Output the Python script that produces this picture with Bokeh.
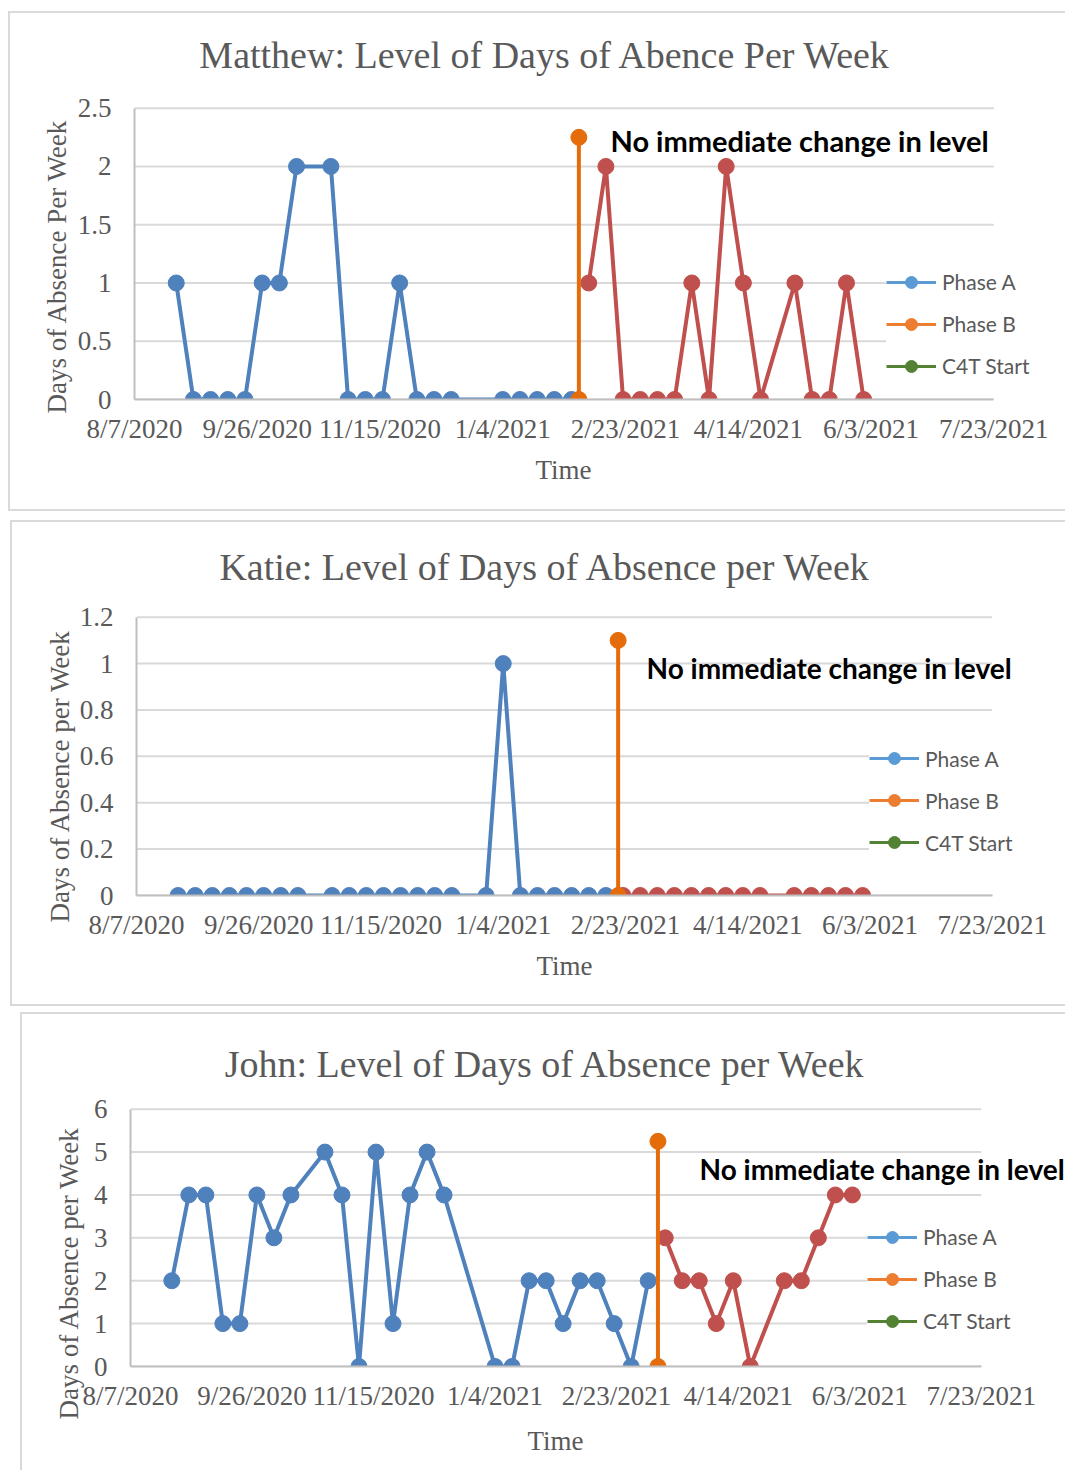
import pandas as pd
from bokeh.plotting import figure
from bokeh.models import (Range1d, FixedTicker, NumeralTickFormatter, Label,
                          Legend, LegendItem, Title)
from bokeh.embed import file_html
from bokeh.resources import INLINE

# ---------------- data ----------------
x_tick_labels = ["8/7/2020", "9/26/2020", "11/15/2020", "1/4/2021",
                 "2/23/2021", "4/14/2021", "6/3/2021", "7/23/2021"]

matthew_a_dates = ["2020-08-24", "2020-08-31", "2020-09-07", "2020-09-14", "2020-09-21",
                   "2020-09-28", "2020-10-05", "2020-10-12", "2020-10-26", "2020-11-02",
                   "2020-11-09", "2020-11-16", "2020-11-23", "2020-11-30", "2020-12-07",
                   "2020-12-14", "2021-01-04", "2021-01-11", "2021-01-18", "2021-01-25",
                   "2021-02-01"]
matthew_a_vals = [1, 0, 0, 0, 0, 1, 1, 2, 2, 0, 0, 0, 1, 0, 0, 0, 0, 0, 0, 0, 0]
matthew_b_dates = ["2021-02-08", "2021-02-15", "2021-02-22", "2021-03-01", "2021-03-08",
                   "2021-03-15", "2021-03-22", "2021-03-29", "2021-04-05", "2021-04-12",
                   "2021-04-19", "2021-05-03", "2021-05-10", "2021-05-17", "2021-05-24",
                   "2021-05-31"]
matthew_b_vals = [1, 2, 0, 0, 0, 0, 1, 0, 2, 1, 0, 1, 0, 0, 1, 0]
matthew_start_date = "2021-02-04"
matthew_start_vals = [0, 2.25]
matthew_y_ticks = [0, 0.5, 1, 1.5, 2, 2.5]

katie_a_dates = ["2020-08-24", "2020-08-31", "2020-09-07", "2020-09-14", "2020-09-21",
                 "2020-09-28", "2020-10-05", "2020-10-12", "2020-10-26", "2020-11-02",
                 "2020-11-09", "2020-11-16", "2020-11-23", "2020-11-30", "2020-12-07",
                 "2020-12-14", "2020-12-28", "2021-01-04", "2021-01-11", "2021-01-18",
                 "2021-01-25", "2021-02-01", "2021-02-08", "2021-02-15"]
katie_a_vals = [0, 0, 0, 0, 0, 0, 0, 0, 0, 0, 0, 0, 0, 0, 0, 0, 0, 1, 0, 0, 0, 0, 0, 0]
katie_b_dates = ["2021-02-22", "2021-03-01", "2021-03-08", "2021-03-15", "2021-03-22",
                 "2021-03-29", "2021-04-05", "2021-04-12", "2021-04-19", "2021-05-03",
                 "2021-05-10", "2021-05-17", "2021-05-24", "2021-05-31"]
katie_b_vals = [0, 0, 0, 0, 0, 0, 0, 0, 0, 0, 0, 0, 0, 0]
katie_start_date = "2021-02-20"
katie_start_vals = [0, 1.1]
katie_y_ticks = [0, 0.2, 0.4, 0.6, 0.8, 1, 1.2]

john_a_dates = ["2020-08-24", "2020-08-31", "2020-09-07", "2020-09-14", "2020-09-21",
                "2020-09-28", "2020-10-05", "2020-10-12", "2020-10-26", "2020-11-02",
                "2020-11-09", "2020-11-16", "2020-11-23", "2020-11-30", "2020-12-07",
                "2020-12-14", "2021-01-04", "2021-01-11", "2021-01-18", "2021-01-25",
                "2021-02-01", "2021-02-08", "2021-02-15", "2021-02-22", "2021-03-01",
                "2021-03-08"]
john_a_vals = [2, 4, 4, 1, 1, 4, 3, 4, 5, 4, 0, 5, 1, 4, 5, 4, 0, 0, 2, 2, 1, 2, 2, 1, 0, 2]
john_b_dates = ["2021-03-15", "2021-03-22", "2021-03-29", "2021-04-05", "2021-04-12",
                "2021-04-19", "2021-05-03", "2021-05-10", "2021-05-17", "2021-05-24",
                "2021-05-31"]
john_b_vals = [3, 2, 2, 1, 2, 0, 2, 2, 3, 4, 4]
john_start_date = "2021-03-12"
john_start_vals = [0, 5.25]
john_y_ticks = [0, 1, 2, 3, 4, 5, 6]

legend_labels = ["Phase A", "Phase B", "C4T Start"]
annotation_text = "No immediate change in level"

# ---------------- styling ----------------
BLUE, RED, ORANGE = "#4F81BD", "#C0504D", "#E46C0A"
LEG_COLORS = ["#5B9BD5", "#ED7D31", "#548235"]
GRAY_TXT = "#595959"
SERIF = "Liberation Serif"
BORDER = "#D9D9D9"
DAY_MS = 86400000.0


def ms(s):
    return int(pd.Timestamp(s).value // 10**6)


def make_panel(g):
    # g: geometry / style settings for one panel (absolute page pixels)
    cx0, cy0, cw, ch = g["canvas"]
    fl, fb = g["frame_left"], g["frame_bottom"]
    ppd, ppu = g["ppd"], g["ppu"]
    x0 = ms(x_tick_labels[0])

    def x_at(px):
        return x0 + (px - fl) / ppd * DAY_MS

    def y_at(py):
        return (fb - py) / ppu

    yt = g["yticks"]
    p = figure(width=cw, height=ch, x_axis_type="datetime", title=None,
               output_backend="svg", toolbar_location=None,
               min_border_left=fl - cx0, min_border_right=0,
               min_border_top=0, min_border_bottom=cy0 + ch - fb,
               x_range=Range1d(x0, x_at(cx0 + cw)),
               y_range=Range1d(yt[0], y_at(cy0)),
               margin=g["margin"], styles=g["styles"])
    p.outline_line_color = None
    p.background_fill_color = "white"
    p.border_fill_color = "white"
    p.xgrid.grid_line_color = None
    p.ygrid.grid_line_color = None

    x_end = ms(x_tick_labels[-1])
    tick_ms = [ms(s) for s in x_tick_labels]
    p.xaxis.ticker = FixedTicker(ticks=tick_ms, minor_ticks=[])
    p.xaxis.major_label_overrides = {t: s for t, s in zip(tick_ms, x_tick_labels)}
    p.xaxis.bounds = (x0, x_end)
    p.yaxis.ticker = FixedTicker(ticks=yt, minor_ticks=[])
    p.yaxis.formatter = NumeralTickFormatter(format="0.[0]")
    p.yaxis.bounds = (yt[0], yt[-1])
    for ax in (p.xaxis[0], p.yaxis[0]):
        ax.axis_line_color = "#BFBFBF"
        ax.axis_line_width = 2
        ax.major_tick_line_color = None
        ax.minor_tick_line_color = None
        ax.major_tick_out = 0
        ax.major_tick_in = 0
        ax.major_label_text_font = SERIF
        ax.major_label_text_font_size = "27px"
        ax.major_label_text_color = GRAY_TXT
    p.xaxis.major_label_standoff = 14
    p.yaxis.major_label_standoff = 23

    # horizontal gridlines, spanning the date axis only
    p.segment(x0=[x0] * len(yt), x1=[x_end] * len(yt), y0=yt, y1=yt,
              line_color="#D9D9D9", line_width=2)

    # series
    ad = pd.to_datetime(g["a_dates"])
    bd = pd.to_datetime(g["b_dates"])
    sd = pd.to_datetime([g["start"], g["start"]])
    p.line(ad, g["a_vals"], line_color=BLUE, line_width=4)
    p.scatter(ad, g["a_vals"], size=16, color=BLUE)
    p.line(bd, g["b_vals"], line_color=RED, line_width=4)
    p.scatter(bd, g["b_vals"], size=16, color=RED)
    p.line(sd, g["start_vals"], line_color=ORANGE, line_width=4)
    p.scatter(sd, g["start_vals"], size=16, color=ORANGE)

    # legend (renderers with no visible data)
    items = []
    nan = float("nan")
    for lab, col in zip(legend_labels, LEG_COLORS):
        rl = p.line(x=[nan], y=[nan], line_color=col, line_width=3)
        rs = p.scatter(x=[nan], y=[nan], size=12, color=col)
        items.append(LegendItem(label=lab, renderers=[rl, rs]))
    leg = Legend(items=items, location=g["leg_loc"], orientation="vertical",
                 glyph_width=50, glyph_height=30, label_height=22, label_standoff=6,
                 spacing=12, padding=16, margin=0,
                 label_text_font="Lato", label_text_font_size="21px",
                 label_text_color=GRAY_TXT, background_fill_color="white",
                 background_fill_alpha=1.0, border_line_color=None)
    p.add_layout(leg)

    # chart title (inside the drawing area, above the plot region)
    tx, ty = g["title_pos"]
    p.add_layout(Label(x=x_at(tx), y=y_at(ty), text=g["title"],
                       text_align="center", text_baseline="alphabetic",
                       text_font=SERIF, text_font_size="38px", text_color=GRAY_TXT))
    # annotation
    ax_, ay_ = g["ann_pos"]
    p.add_layout(Label(x=x_at(ax_), y=y_at(ay_), text=annotation_text,
                       text_align="left", text_baseline="alphabetic",
                       text_font="Lato", text_font_style="bold",
                       text_font_size=g["ann_size"], text_color="black"))
    # axis titles
    p.add_layout(Title(text=g["ylab"], align="left", offset=g["ylab_off"],
                       standoff=g["ylab_standoff"], text_font=SERIF,
                       text_font_size="27px", text_font_style="normal",
                       text_color=GRAY_TXT), "left")
    p.add_layout(Title(text="Time", align="left", offset=g["time_off"],
                       vertical_align="top", standoff=g["time_standoff"], text_font=SERIF,
                       text_font_size="27px", text_font_style="normal",
                       text_color=GRAY_TXT), "below")
    return p


p1 = make_panel(dict(
    canvas=(10, 13, 1057, 500), margin=(11, 0, 0, 8),
    styles={"border-style": "solid", "border-color": BORDER,
            "border-width": "2px 0 2px 2px"},
    frame_left=134, frame_bottom=399, ppd=(993.3 - 134) / 350, ppu=(399 - 107.7) / 2.5,
    yticks=matthew_y_ticks, a_dates=matthew_a_dates, a_vals=matthew_a_vals,
    b_dates=matthew_b_dates, b_vals=matthew_b_vals,
    start=matthew_start_date, start_vals=matthew_start_vals,
    leg_loc=(752, 18.5),
    title="Matthew: Level of Days of Abence Per Week", title_pos=(545, 54),
    ylab="Days of Absence Per Week", ylab_off=-14, ylab_standoff=6,
    time_off=401, time_standoff=16, ann_pos=(610, 140), ann_size="29px"))

p2 = make_panel(dict(
    canvas=(12, 526, 1055, 486), margin=(9, 0, 0, 10),
    styles={"border-style": "solid", "border-color": BORDER,
            "border-width": "2px 0 2px 2px"},
    frame_left=136, frame_bottom=899, ppd=(991.7 - 136) / 350, ppu=(899 - 620.7) / 1.2,
    yticks=katie_y_ticks, a_dates=katie_a_dates, a_vals=katie_a_vals,
    b_dates=katie_b_dates, b_vals=katie_b_vals,
    start=katie_start_date, start_vals=katie_start_vals,
    leg_loc=(733, 38),
    title="Katie: Level of Days of Absence per Week", title_pos=(545, 570.5),
    ylab="Days of Absence per Week", ylab_off=-27, ylab_standoff=4,
    time_off=400, time_standoff=16, ann_pos=(646, 671.5), ann_size="28px"))

p3 = make_panel(dict(
    canvas=(22, 1022, 1045, 458), margin=(6, 0, 0, 20),
    styles={"border-style": "solid", "border-color": BORDER,
            "border-width": "2px 0 0 2px"},
    frame_left=130, frame_bottom=1374, ppd=(980.7 - 130) / 350, ppu=(1374 - 1116.7) / 6,
    yticks=john_y_ticks, a_dates=john_a_dates, a_vals=john_a_vals,
    b_dates=john_b_dates, b_vals=john_b_vals,
    start=john_start_date, start_vals=john_start_vals,
    leg_loc=(737, 30.5),
    title="John: Level of Days of Absence per Week", title_pos=(545, 1071),
    ylab="Days of Absence per Week", ylab_off=-53, ylab_standoff=14,
    time_off=397, time_standoff=24, ann_pos=(699, 1176), ann_size="28px"))

# three separate roots, stacked on the page (so frames are not aligned to each other)
open("out.html", "w").write(file_html([p1, p2, p3], INLINE))
